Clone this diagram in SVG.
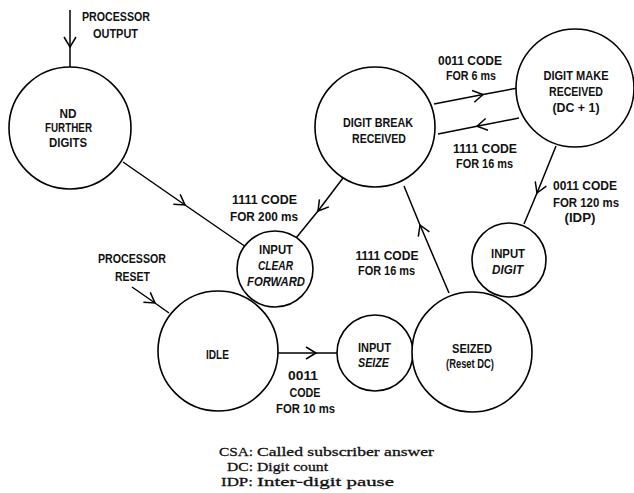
<svg xmlns="http://www.w3.org/2000/svg" width="634" height="493" viewBox="0 0 634 493">
  <style>
    .state { fill: #fff; stroke: #000; stroke-width: 1.6; }
    .wire { fill: none; stroke: #000; stroke-width: 1.5; marker-mid: url(#chev); }
    .lbl { font-family: "Liberation Sans", Arial, sans-serif; font-weight: bold; font-size: 13.5px; fill: #111; text-anchor: middle; }
    .it { font-style: italic; }
    .key { font-family: "Liberation Serif", "Times New Roman", serif; font-size: 13.5px; fill: #111; stroke: #111; stroke-width: 0.3; }
  </style>
  <defs>
    <!-- open chevron placed at the midpoint of each connector -->
    <marker id="chev" markerUnits="userSpaceOnUse" markerWidth="24" markerHeight="24" refX="0" refY="0" viewBox="-12 -12 24 24" orient="auto" overflow="visible">
      <path d="M -10 -6 L 0 0 L -10 6" fill="none" stroke="#000" stroke-width="1.5"/>
    </marker>
  </defs>
  <rect width="634" height="493" fill="#fff"/>

  <!-- connectors -->
  <g id="connectors">
    <path class="wire" d="M70 10 L70 47 L70 67"/>
    <path class="wire" d="M123 162 L185 205 L246 247"/>
    <path class="wire" d="M343 178 L318 211 L296 238"/>
    <path class="wire" d="M449 293 L420 225 L404 186"/>
    <path class="wire" d="M434 104 L483 94.5 L518 88"/>
    <path class="wire" d="M519 118 L477 126.3 L438 134"/>
    <path class="wire" d="M556 146 L537 193 L524 224"/>
    <path class="wire" d="M132 287 L155 303 L169 313"/>
    <path class="wire" d="M278 353 L316 353 L337 353"/>
  </g>

  <!-- transition labels -->
  <g id="labels">
    <text class="lbl" x="116" y="21" textLength="68" lengthAdjust="spacingAndGlyphs">PROCESSOR</text>
    <text class="lbl" x="115.5" y="38" textLength="45" lengthAdjust="spacingAndGlyphs">OUTPUT</text>

    <text class="lbl" x="470" y="65" textLength="64" lengthAdjust="spacingAndGlyphs">0011 CODE</text>
    <text class="lbl" x="471" y="80" textLength="50" lengthAdjust="spacingAndGlyphs">FOR 6 ms</text>

    <text class="lbl" x="485" y="153" textLength="64" lengthAdjust="spacingAndGlyphs">1111 CODE</text>
    <text class="lbl" x="484.5" y="168" textLength="57" lengthAdjust="spacingAndGlyphs">FOR 16 ms</text>

    <text class="lbl" x="585" y="190" textLength="64" lengthAdjust="spacingAndGlyphs">0011 CODE</text>
    <text class="lbl" x="586" y="207" textLength="66" lengthAdjust="spacingAndGlyphs">FOR 120 ms</text>
    <text class="lbl" x="580" y="222" textLength="31" lengthAdjust="spacingAndGlyphs">(IDP)</text>

    <text class="lbl" x="264.5" y="204" textLength="65" lengthAdjust="spacingAndGlyphs">1111 CODE</text>
    <text class="lbl" x="264" y="221" textLength="68" lengthAdjust="spacingAndGlyphs">FOR 200 ms</text>

    <text class="lbl" x="387" y="260" textLength="63" lengthAdjust="spacingAndGlyphs">1111 CODE</text>
    <text class="lbl" x="386.5" y="275" textLength="57" lengthAdjust="spacingAndGlyphs">FOR 16 ms</text>

    <text class="lbl" x="132" y="263" textLength="68" lengthAdjust="spacingAndGlyphs">PROCESSOR</text>
    <text class="lbl" x="132.5" y="281" textLength="35" lengthAdjust="spacingAndGlyphs">RESET</text>

    <text class="lbl" x="303" y="380" textLength="30" lengthAdjust="spacingAndGlyphs">0011</text>
    <text class="lbl" x="305" y="397" textLength="31" lengthAdjust="spacingAndGlyphs">CODE</text>
    <text class="lbl" x="305.5" y="413" textLength="59" lengthAdjust="spacingAndGlyphs">FOR 10 ms</text>
  </g>

  <!-- states -->
  <g id="no-further-digits">
    <circle class="state" cx="70" cy="128" r="61"/>
    <text class="lbl" x="68" y="118" textLength="17" lengthAdjust="spacingAndGlyphs">ND</text>
    <text class="lbl" x="68.5" y="132" textLength="47" lengthAdjust="spacingAndGlyphs">FURTHER</text>
    <text class="lbl" x="68" y="147" textLength="38" lengthAdjust="spacingAndGlyphs">DIGITS</text>
  </g>

  <g id="digit-break-received">
    <circle class="state" cx="375" cy="127" r="60"/>
    <text class="lbl" x="378" y="127" textLength="70" lengthAdjust="spacingAndGlyphs">DIGIT BREAK</text>
    <text class="lbl" x="379" y="143" textLength="54" lengthAdjust="spacingAndGlyphs">RECEIVED</text>
  </g>

  <g id="digit-make-received">
    <circle class="state" cx="575" cy="88" r="59"/>
    <text class="lbl" x="576" y="80" textLength="65" lengthAdjust="spacingAndGlyphs">DIGIT MAKE</text>
    <text class="lbl" x="576" y="96" textLength="54" lengthAdjust="spacingAndGlyphs">RECEIVED</text>
    <text class="lbl" x="576" y="112" textLength="47" lengthAdjust="spacingAndGlyphs">(DC + 1)</text>
  </g>

  <g id="input-clear-forward">
    <circle class="state" cx="275" cy="269" r="38"/>
    <text class="lbl" x="276" y="254" textLength="34" lengthAdjust="spacingAndGlyphs">INPUT</text>
    <text class="lbl it" x="275.5" y="270" textLength="35" lengthAdjust="spacingAndGlyphs">CLEAR</text>
    <text class="lbl it" x="276" y="286" textLength="58" lengthAdjust="spacingAndGlyphs">FORWARD</text>
  </g>

  <g id="input-digit">
    <circle class="state" cx="509" cy="260" r="37"/>
    <text class="lbl" x="508" y="258" textLength="34" lengthAdjust="spacingAndGlyphs">INPUT</text>
    <text class="lbl it" x="507.5" y="274" textLength="31" lengthAdjust="spacingAndGlyphs">DIGIT</text>
  </g>

  <g id="idle">
    <circle class="state" cx="218" cy="351" r="60"/>
    <text class="lbl" x="217.5" y="359" textLength="23" lengthAdjust="spacingAndGlyphs">IDLE</text>
  </g>

  <g id="input-seize">
    <circle class="state" cx="375" cy="353" r="38"/>
    <text class="lbl" x="374.5" y="352" textLength="33" lengthAdjust="spacingAndGlyphs">INPUT</text>
    <text class="lbl it" x="373.5" y="367" textLength="31" lengthAdjust="spacingAndGlyphs">SEIZE</text>
  </g>

  <g id="seized">
    <circle class="state" cx="472" cy="352" r="60"/>
    <text class="lbl" x="472" y="353" textLength="40" lengthAdjust="spacingAndGlyphs">SEIZED</text>
    <text class="lbl" x="470" y="368" textLength="48" lengthAdjust="spacingAndGlyphs">(Reset DC)</text>
  </g>

  <!-- abbreviations key -->
  <g id="key">
    <text class="key" x="253" y="456" text-anchor="end" textLength="34" lengthAdjust="spacingAndGlyphs">CSA:</text>
    <text class="key" x="257" y="456" textLength="177" lengthAdjust="spacingAndGlyphs">Called subscriber answer</text>
    <text class="key" x="253" y="471" text-anchor="end" textLength="26" lengthAdjust="spacingAndGlyphs">DC:</text>
    <text class="key" x="257" y="471" textLength="71" lengthAdjust="spacingAndGlyphs">Digit count</text>
    <text class="key" x="253" y="486" text-anchor="end" textLength="32" lengthAdjust="spacingAndGlyphs">IDP:</text>
    <text class="key" x="257" y="486" textLength="137" lengthAdjust="spacingAndGlyphs">Inter-digit pause</text>
  </g>
</svg>
